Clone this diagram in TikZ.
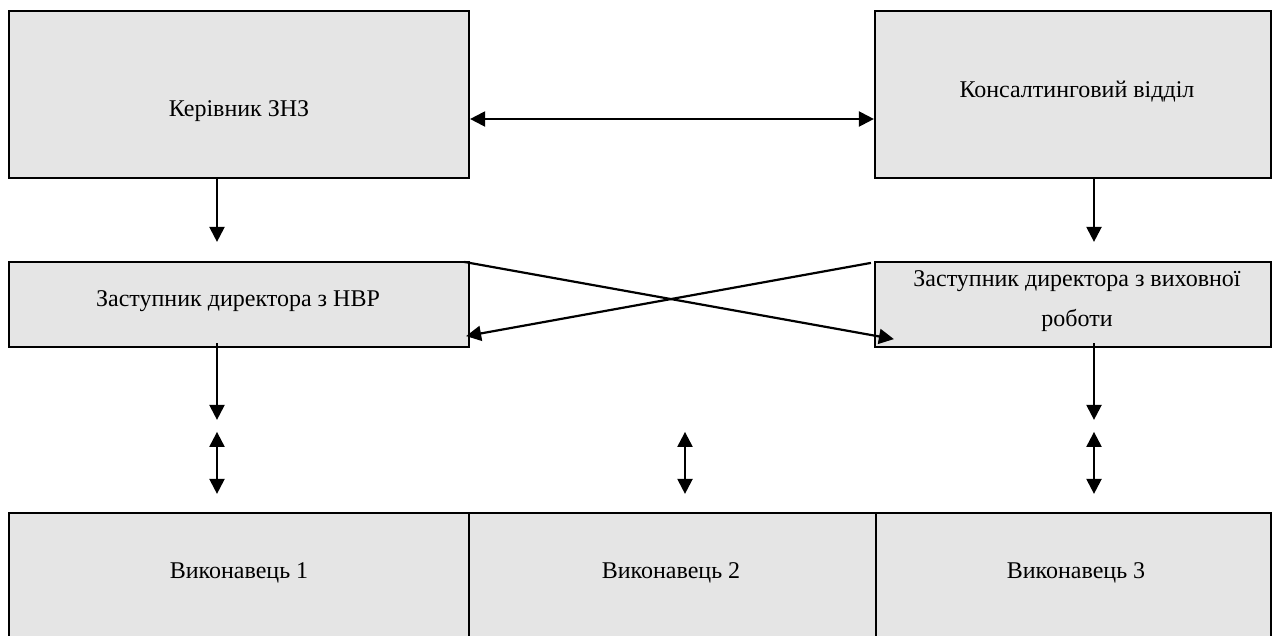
\documentclass[tikz,border=0pt]{standalone}
\usepackage{fontspec}
\setmainfont{Liberation Serif}
\usetikzlibrary{arrows.meta,positioning}
\definecolor{boxgray}{HTML}{E5E5E5}

\begin{document}
\begin{tikzpicture}[x=1pt, y=-1pt, >={Triangle[length=15pt,width=15pt]}, line join=miter,
    box/.style={draw, fill=boxgray, line width=2.2pt, inner sep=0pt},
    txt/.style={font=\fontsize{24pt}{40pt}\selectfont, align=center, inner sep=0pt},
    arr/.style={line width=2.2pt, ->},
    darr/.style={line width=2.2pt, <->}]
  \useasboundingbox (0,0) rectangle (1272,635);
  \clip (0,0) rectangle (1272,635);

  % top row
  \node[box, minimum width=460pt, minimum height=167pt] (head) at (239,94.5) {};
  \node[box, minimum width=396pt, minimum height=167pt] (cons) at (1073,94.5) {};
  \node[txt] (headtxt) at ([yshift=-16.5pt]head.center) {Керівник ЗНЗ};
  \node[txt] (constxt) at ([xshift=4pt,yshift=2.5pt]cons.center) {Консалтинговий відділ};

  % deputies
  \node[box, minimum width=460pt, minimum height=85pt] (nvr) at (239,304.5) {};
  \node[box, minimum width=396pt, minimum height=85pt] (vykh) at (1073,304.5) {};
  \node[txt] (nvrtxt) at ([xshift=-1pt,yshift=3.5pt]nvr.center) {Заступник директора з НВР};
  \node[txt] (vykhtxt) at ([xshift=4pt,yshift=3.5pt]vykh.center) {Заступник директора з виховної\\роботи};

  % executors
  \node[box, minimum width=460pt, minimum height=147pt] (vyk1) at (239,586.5) {};
  \node[box, minimum width=407pt, minimum height=147pt] (vyk2) at (672.5,586.5) {};
  \node[box, minimum width=395pt, minimum height=147pt] (vyk3) at (1073.5,586.5) {};
  \node[txt] (vyk1txt) at ([yshift=-61pt]vyk1.north) {Виконавець 1};
  \node[txt] (vyk2txt) at ([xshift=-1.5pt,yshift=-61pt]vyk2.north) {Виконавець 2};
  \node[txt] (vyk3txt) at ([xshift=2.5pt,yshift=-61pt]vyk3.north) {Виконавець 3};

  % links
  \draw[darr] ([yshift=-24.5pt]head.east) -- ([yshift=-24.5pt]cons.west);
  \draw[arr] ([xshift=-22pt]head.south) -- ([xshift=-22pt,yshift=19pt]nvr.north);
  \draw[arr] ([xshift=21pt]cons.south) -- ([xshift=21pt,yshift=19pt]vykh.north);
  \draw[arr] ([xshift=-6pt,yshift=-1pt]nvr.north east) -- ([xshift=20pt,yshift=9pt]vykh.south west);
  \draw[arr] ([xshift=-3pt,yshift=-2pt]vykh.north west) -- ([xshift=-4pt,yshift=12pt]nvr.south east);
  \draw[arr] ([xshift=-22pt,yshift=5pt]nvr.south) -- ([xshift=-22pt,yshift=92pt]vyk1.north);
  \draw[arr] ([xshift=21pt,yshift=5pt]vykh.south) -- ([xshift=20.5pt,yshift=92pt]vyk3.north);
  \foreach \n/\dx in {vyk1/-22, vyk2/12.5, vyk3/20.5}
    \draw[darr] ([xshift=\dx pt,yshift=80pt]\n.north) -- ([xshift=\dx pt,yshift=18pt]\n.north);
\end{tikzpicture}
\end{document}
